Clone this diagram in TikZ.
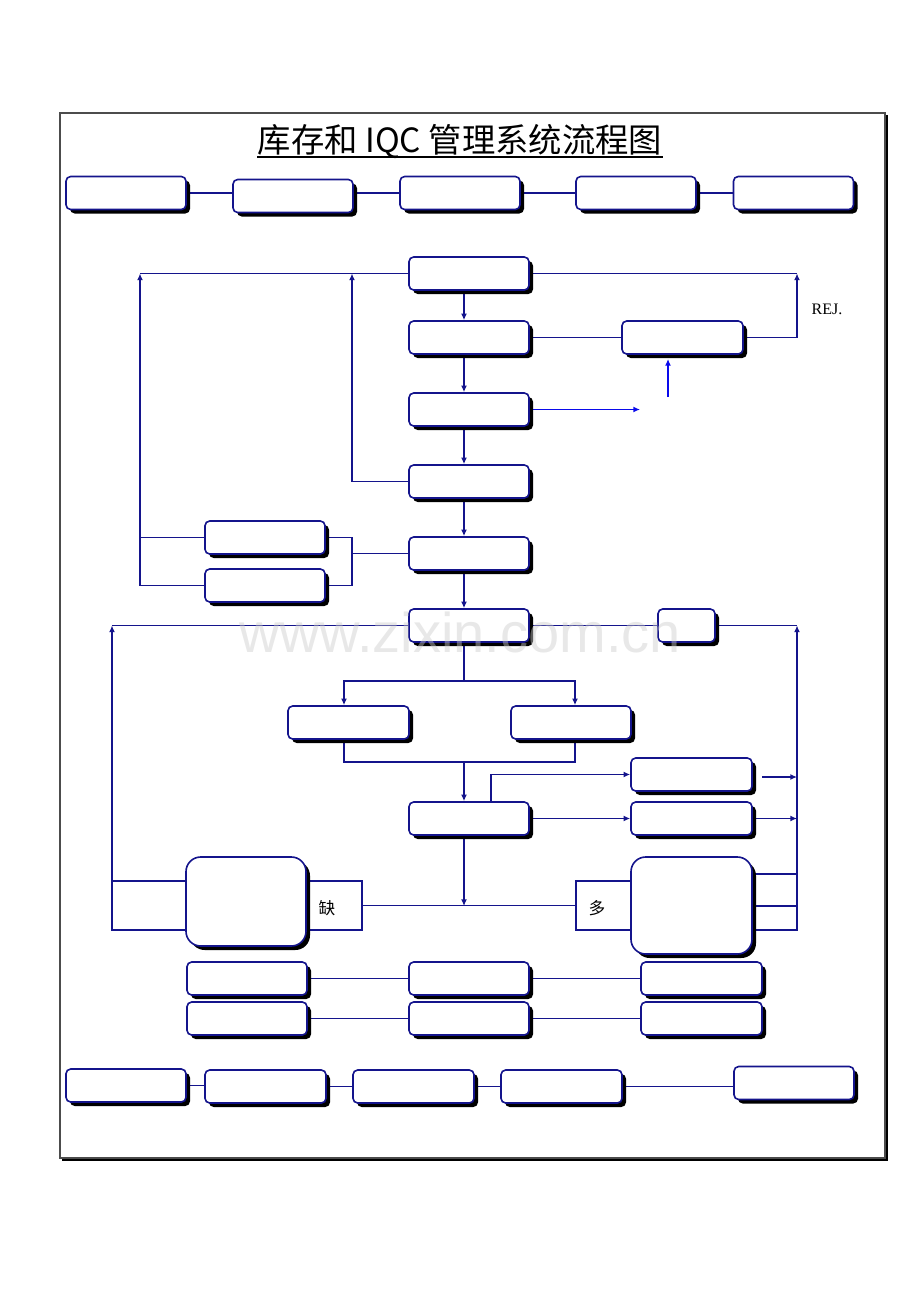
\documentclass[tikz,border=0pt]{standalone}
\usepackage{fontspec}
\setmainfont{Liberation Serif}
\newfontfamily\cjk{Noto Sans CJK SC}
\newfontfamily\wmfont{Liberation Sans}
\usetikzlibrary{shadows,arrows.meta,backgrounds}
\definecolor{navy}{RGB}{20,20,140}
\definecolor{brightblue}{RGB}{10,10,235}
\begin{document}
\begin{tikzpicture}[x=0.75pt,y=-0.75pt,
  bx/.style={draw=navy,line width=1.2pt,fill=white,rounded corners=3.5pt,
    minimum width=90pt,minimum height=24.75pt,inner sep=0pt,
    drop shadow={shadow xshift=3pt,shadow yshift=-3pt,fill=black,opacity=1}},
  bigbx/.style={bx,rounded corners=11pt},
  ln/.style={draw=navy,line width=1.15pt},
  ar/.style={ln,-{Latex[length=5pt,width=4.5pt]}},
  arb/.style={draw=brightblue,line width=1.15pt,-{Latex[length=5pt,width=4.5pt]}},
  tagbox/.style={draw=navy,line width=1pt,fill=white,inner sep=0pt}]
\useasboundingbox (0,0) rectangle (920,1302);

% frame
\draw[black,line width=1.6pt] (886.5,115) -- (886.5,1159.5) -- (62,1159.5);
\draw[gray!60!black,line width=0.9pt] (60,113) rectangle (885,1158);

% title
\node[font=\cjk\fontsize{25}{25}\selectfont,inner sep=0pt,anchor=base] (title) at (460,152) {库存和 IQC 管理系统流程图};
\draw[black,line width=1.2pt] (257,157) -- (663,157);

% top row
\node[bx] (T1) at (126,193) {};
\node[bx] (T2) at (293,196) {};
\node[bx] (T3) at (460,193) {};
\node[bx] (T4) at (636,193) {};
\node[bx] (T5) at (793.5,193) {};

% main column
\node[bx] (A) at (469,273.5) {};
\node[bx] (B) at (469,337.5) {};
\node[bx] (C) at (469,409.5) {};
\node[bx] (D) at (469,481.5) {};
\node[bx] (E) at (469,553.5) {};
\node[bx] (F) at (469,625.5) {};
\node[bx,minimum width=90.75pt] (R) at (682.5,337.5) {};
\node[bx] (G1) at (265,537.5) {};
\node[bx] (G2) at (265,585.5) {};
\node[bx,minimum width=42.75pt] (S) at (686.5,625.5) {};
\node[bx,minimum width=90.75pt] (H1) at (348.5,722.5) {};
\node[bx] (H2) at (571,722.5) {};
\node[bx] (I) at (469,818.5) {};
\node[bx,minimum width=90.75pt] (J1) at (691.5,774.5) {};
\node[bx,minimum width=90.75pt] (J2) at (691.5,818.5) {};
\node[bigbx,minimum height=66.75pt] (K1) at (246,901.5) {};
\node[bigbx,minimum width=90.75pt,minimum height=72.75pt] (K2) at (691.5,905.5) {};
\node[bx] (L11) at (247,978.5) {};
\node[bx] (L12) at (469,978.5) {};
\node[bx,minimum width=90.75pt] (L13) at (701.5,978.5) {};
\node[bx] (L21) at (247,1018.5) {};
\node[bx] (L22) at (469,1018.5) {};
\node[bx,minimum width=90.75pt] (L23) at (701.5,1018.5) {};
\node[bx] (B1) at (126,1085.5) {};
\node[bx,minimum width=90.75pt] (B2) at (265.5,1086.5) {};
\node[bx,minimum width=90.75pt] (B3) at (413.5,1086.5) {};
\node[bx,minimum width=90.75pt] (B4) at (561.5,1086.5) {};
\node[bx] (B5) at (794,1083) {};

\node[font=\fontsize{12}{12}\selectfont] (rejlbl) at (827,309) {REJ.};

\begin{scope}[on background layer]
  % helper coordinates
  \coordinate (cx) at (464,0);
  \coordinate (rej) at (797,273.5);
  \coordinate (L1) at (140,273.5);
  \coordinate (L2) at (352,273.5);
  \coordinate (m) at (352,553.5);
  \coordinate (L3) at (112,625.5);
  \coordinate (R2) at (797,625.5);
  \coordinate (sp) at (464,681);
  \coordinate (h1x) at (344,0);
  \coordinate (h2x) at (575,0);
  \coordinate (mg) at (464,762);
  \coordinate (ix) at (491,0);
  \coordinate (jn) at (464,906);
  \coordinate (rin) at (668,397);
  \coordinate (rtip) at (668,359);
  \coordinate (cout) at (640,409.5);
  \coordinate (k1a) at (186,881);
  \coordinate (k1b) at (186,930);
  \coordinate (k2a) at (752,874);
  \coordinate (k2b) at (752,906);
  \coordinate (k2c) at (752,930);
  \coordinate (j1o) at (762,777);

  % top row links
  \draw[ln] (T1.east) -- (T1.east -| T2.west);
  \draw[ln] (T3.west) -- (T3.west -| T2.east);
  \draw[ln] (T3.east) -- (T4.west);
  \draw[ln] (T4.east) -- (T5.west);

  % main column
  \draw[ar] (A.south -| cx) -- (B.north -| cx);
  \draw[ar] (B.south -| cx) -- (C.north -| cx);
  \draw[ar] (C.south -| cx) -- (D.north -| cx);
  \draw[ar] (D.south -| cx) -- (E.north -| cx);
  \draw[ar] (E.south -| cx) -- (F.north -| cx);

  % reject loop
  \draw[ln] (A.east) -- (rej);
  \draw[ln] (B.east) -- (R.west);
  \draw[ar] (R.east) -| (rej);
  \draw[arb] (rin) -- (rtip);
  \draw[arb] (C.east) -- (cout);

  % left loops
  \draw[ln] (A.west) -- (L1);
  \draw[ar] (G2.west) -| (L1);
  \draw[ln] (G1.west) -- (G1.west -| L1);
  \draw[ar] (D.west) -| (L2);
  \draw[ln] (G1.east) -| (m);
  \draw[ln] (G2.east) -| (m);
  \draw[ln] (E.west) -- (m);

  % F level
  \draw[ln] (F.west) -- (L3);
  \draw[ar] (k1b) -| (L3);
  \draw[ln] (k1a) -- (k1a -| L3);
  \draw[ln] (F.east) -- (S.west);
  \draw[ln] (S.east) -- (R2);
  \draw[ar] (k2c) -| (R2);
  \draw[ln] (k2a) -- (k2a -| R2);
  \draw[ln] (k2b) -- (k2b -| R2);

  % split and merge
  \draw[ln] (F.south -| cx) -- (sp);
  \draw[ar] (sp) -| (H1.north -| h1x);
  \draw[ar] (sp) -| (H2.north -| h2x);
  \draw[ln] (H1.south -| h1x) |- (mg);
  \draw[ln] (H2.south -| h2x) |- (mg);
  \draw[ar] (mg) -- (I.north -| cx);
  \draw[ar] (I.north -| ix) |- (J1.west);
  \draw[ar] (I.east) -- (J2.west);
  \draw[ar] (j1o) -- (j1o -| R2);
  \draw[ar] (J2.east) -- (J2.east -| R2);

  % shortage / surplus
  \node[tagbox,minimum width=46.5pt,minimum height=36.75pt] (que) at (331,905.5) {};
  \node[tagbox,minimum width=48pt,minimum height=36.75pt] (duo) at (608,905.5) {};
  \draw[ln] (que.east) -- (duo.west);
  \draw[ar] (I.south -| cx) -- (jn);

  % lower rows
  \draw[ln] (L11.east) -- (L12.west);
  \draw[ln] (L12.east) -- (L13.west);
  \draw[ln] (L21.east) -- (L22.west);
  \draw[ln] (L22.east) -- (L23.west);

  % bottom row
  \draw[ln] (B1.east) -- (B1.east -| B2.west);
  \draw[ln] (B2.east) -- (B3.west);
  \draw[ln] (B3.east) -- (B4.west);
  \draw[ln] (B4.east) -- (B4.east -| B5.west);
\end{scope}

\node[font=\cjk\fontsize{12.5}{12.5}\selectfont] (quelbl) at (327,908) {缺};
\node[font=\cjk\fontsize{12.5}{12.5}\selectfont] (duolbl) at (597,908) {多};

% watermark
\node[text=gray!40,opacity=0.45,font=\wmfont\fontsize{42}{42}\selectfont,anchor=base] (wm) at (460,652) {www.zixin.com.cn};
\end{tikzpicture}
\end{document}
